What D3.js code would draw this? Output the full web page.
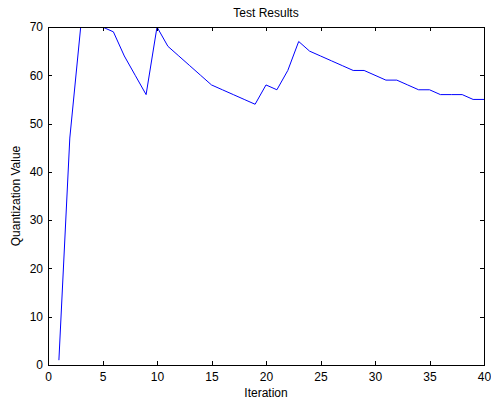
<!DOCTYPE html>
<html>
<head>
<meta charset="utf-8">
<script src="https://cdn.jsdelivr.net/npm/d3@7"></script>
<style>
  body { margin: 0; background: #fff; }
  text { font-family: "Liberation Sans", Arial, sans-serif; fill: #000; }
</style>
</head>
<body>
<svg id="chart" width="491" height="403"></svg>
<script>
// iteration values
const iterations = d3.range(1, 41);
const quantization = [
  1, 47, 70, 72, 70, 69, 64, 60, 56, 70,
  66, 64, 62, 60, 58, 57, 56, 55, 54, 58,
  57, 61, 67, 65, 64, 63, 62, 61, 61, 60,
  59, 59, 58, 57, 57, 56, 56, 56, 55, 55
];
const xTicks = [0, 5, 10, 15, 20, 25, 30, 35, 40];
const yTicks = [0, 10, 20, 30, 40, 50, 60, 70];

const margin = {top: 27, right: 7, bottom: 38, left: 48};
const width = 491, height = 403;

const svg = d3.select("#chart");

const x = d3.scaleLinear().domain([0, 40]).range([margin.left, width - margin.right]);
const y = d3.scaleLinear().domain([0, 70]).range([height - margin.bottom, margin.top]);

svg.append("clipPath")
    .attr("id", "clip")
    .append("rect")
    .attr("x", margin.left)
    .attr("y", margin.top)
    .attr("width", width - margin.left - margin.right)
    .attr("height", height - margin.top - margin.bottom);

const data = iterations.map((d, i) => ({x: d, y: quantization[i]}));

svg.append("path")
    .datum(data)
    .attr("clip-path", "url(#clip)")
    .attr("fill", "none")
    .attr("stroke", "#0000ff")
    .attr("stroke-width", 1)
    .attr("d", d3.line().x(d => x(d.x)).y(d => y(d.y)));

// axes, MATLAB style: ticks inward, box all round
const tickLen = 4;
svg.append("g")
    .attr("transform", `translate(0,${y(0)})`)
    .call(d3.axisBottom(x).tickValues(xTicks).tickSizeInner(-tickLen).tickSizeOuter(0).tickPadding(7));
svg.append("g")
    .attr("transform", `translate(${x(0)},0)`)
    .call(d3.axisLeft(y).tickValues(yTicks).tickSizeInner(-tickLen).tickSizeOuter(0).tickPadding(5));
svg.append("g")
    .attr("transform", `translate(0,${y(70)})`)
    .call(d3.axisTop(x).tickValues(xTicks).tickSizeInner(-tickLen).tickSizeOuter(0).tickFormat(""));
svg.append("g")
    .attr("transform", `translate(${x(40)},0)`)
    .call(d3.axisRight(y).tickValues(yTicks).tickSizeInner(-tickLen).tickSizeOuter(0).tickFormat(""));

svg.selectAll(".domain").attr("stroke", "#000").attr("shape-rendering", "crispEdges");
svg.selectAll(".tick line").attr("stroke", "#000").attr("shape-rendering", "crispEdges");
svg.selectAll(".tick text")
    .attr("font-size", 12)
    .attr("font-family", "Liberation Sans, Arial, sans-serif")
    .attr("fill", "#000");

svg.append("text")
    .attr("x", (x(0) + x(40)) / 2)
    .attr("y", 17)
    .attr("text-anchor", "middle")
    .attr("font-size", 12)
    .text("Test Results");

svg.append("text")
    .attr("x", (x(0) + x(40)) / 2)
    .attr("y", 397)
    .attr("text-anchor", "middle")
    .attr("font-size", 12)
    .text("Iteration");

svg.append("text")
    .attr("transform", `translate(20,${(y(0) + y(70)) / 2}) rotate(-90)`)
    .attr("text-anchor", "middle")
    .attr("font-size", 12)
    .text("Quantization Value");
</script>
</body>
</html>
